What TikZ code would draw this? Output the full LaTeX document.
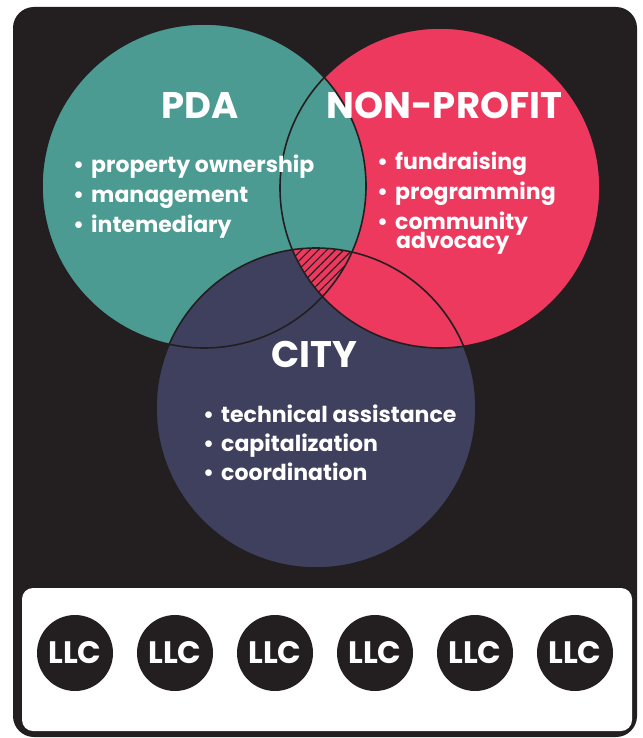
\documentclass[tikz,border=0pt]{standalone}
\usepackage{fontspec}
\setmainfont{Poppins}
\usetikzlibrary{positioning,patterns.meta}
\definecolor{framedark}{RGB}{35,31,32}
\definecolor{pdateal}{RGB}{75,155,146}
\definecolor{nppink}{RGB}{237,57,94}
\definecolor{citynavy}{RGB}{62,64,94}

\begin{document}
\begin{tikzpicture}[x=1pt,y=-1pt,
    title/.style={text=white,inner sep=0pt,anchor=base,font=\fontsize{37}{37}\selectfont\bfseries},
    item/.style={text=white,inner sep=0pt,anchor=base west,font=\fontsize{22}{22}\selectfont\bfseries},
    llc/.style={circle,fill=framedark,minimum size=76pt,inner sep=0pt,text=white,font=\fontsize{31}{31}\selectfont\bfseries},
    rim/.style={draw=framedark,line width=1.6pt}]
  \useasboundingbox (0,0) rectangle (642,738);

  % frame
  \draw[framedark,fill=framedark,line width=6pt,rounded corners=18pt] (16,10) rectangle (634,734);
  \fill[white,rounded corners=11pt] (22,588) rectangle (632,731);

  \coordinate (pda) at (204,186);
  \coordinate (np) at (440,188);
  \coordinate (city) at (316,408);

  % circles
  \fill[nppink] (np) circle (160);
  \fill[pdateal] (pda) circle (162);
  \fill[citynavy] (city) circle (160);
  \begin{scope}
    \clip (city) circle (160);
    \fill[nppink] (np) circle (160);
  \end{scope}
  \begin{scope}
    \clip (pda) circle (162);
    \clip (np) circle (160);
    \fill[pattern={Lines[angle=45,distance=6pt,line width=1.1pt]},pattern color=framedark] (city) circle (160);
  \end{scope}
  \draw[rim] (np) circle (160);
  \draw[rim] (pda) circle (162);
  \draw[rim] (city) circle (160);

  % titles
  \node[title] (pdatitle) at (200.5,119) {PDA};
  \node[title] (nptitle) at (444.5,119) {NON-PROFIT};
  \node[title] (citytitle) at (314,367) {CITY};

  % lists
  \node[item] (pda1) at (73,172) {•\hspace{7pt}property ownership};
  \node[item] (pda2) at (73,202) {•\hspace{7pt}management};
  \node[item] (pda3) at (73,232) {•\hspace{7pt}intemediary};

  \node[item] (np1) at (377,170) {•\hspace{7pt}fundraising};
  \node[item] (np2) at (377,200) {•\hspace{7pt}programming};
  \node[item] (np3) at (377,229) {•\hspace{7pt}community};
  \node[item] (np4) at (396,248) {advocacy};

  \node[item] (city1) at (203,422) {•\hspace{7pt}technical assistance};
  \node[item] (city2) at (203,451) {•\hspace{7pt}capitalization};
  \node[item] (city3) at (203,480) {•\hspace{7pt}coordination};

  % llc row
  \foreach \i in {0,...,5}
    \node[llc] (llc\i) at (75+100*\i,653) {LLC};
\end{tikzpicture}
\end{document}
